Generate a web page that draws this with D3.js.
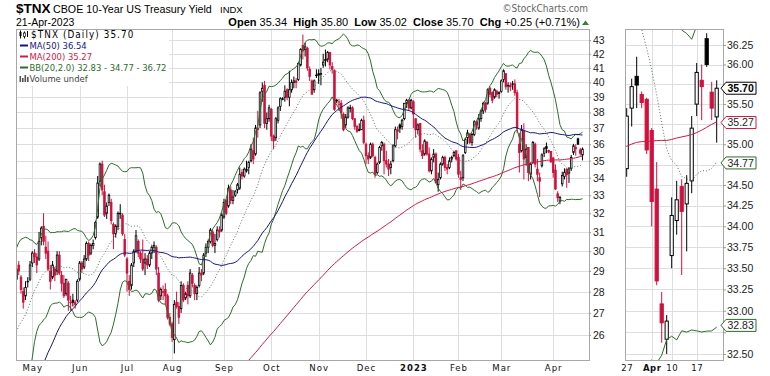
<!DOCTYPE html>
<html lang="en">
<head>
<meta charset="utf-8">
<style>
    body { margin: 0; background: #fff; }
    svg { display: block; }
    .hdr { font-family: "Liberation Sans", Arial, sans-serif; fill: #000; }
    .leg { font-family: "DejaVu Sans Condensed", "DejaVu Sans", sans-serif; }
    .axis text { font-family: "Liberation Sans", Arial, sans-serif; font-size: 10.5px; fill: #222; }
    .axis path { display: none; }
    .axis line { stroke: #999; }
</style>
</head>
<body>

<script type="text/javascript" src="https://d3js.org/d3.v7.min.js"></script>

<svg width="770" height="376"></svg>

<script>
    // market holidays in the date range (no bar on these days)
    var holidays = ["2021-12-24", "2022-01-17", "2022-02-21", "2022-04-15", "2022-05-30", "2022-06-20",
        "2022-07-04", "2022-09-05", "2022-11-24", "2022-12-26", "2023-01-02", "2023-01-16",
        "2023-02-20", "2023-04-07"];

    // closes before the visible window (26-Nov-2021 .. 20-Apr-2022), only used for the averages
    var priorClose = [
        14.8, 15.0, 14.5,
        14.1, 14.5, 13.5, 14.4, 14.8, 15.2, 14.9, 14.8, 14.2, 14.4, 14.7, 14.4, 14.0, 14.3, 14.8, 14.6, 14.9, 14.8, 14.8, 15.5, 15.1, 15.1,
        16.3, 16.6, 17.1, 17.3, 17.6, 17.8, 17.5, 17.4, 17.0, 17.8, 18.7, 18.3, 18.3, 17.5, 17.5, 17.8, 18.7, 18.0, 17.8, 17.9,
        18.1, 17.7, 18.3, 19.3, 19.2, 19.6, 19.4, 20.3, 19.2, 19.8, 20.5, 20.3, 19.7, 19.3, 19.4, 19.9, 19.7, 19.7, 18.3,
        17.2, 18.6, 18.6, 17.4, 17.8, 18.6, 19.5, 20.0, 20.0, 21.4, 21.5, 21.9, 21.9, 21.5, 23.2, 23.8, 22.9, 23.7, 24.8, 24.6, 24.0, 23.5, 23.2,
        23.8, 24.2, 25.5, 26.0, 26.6, 27.2, 27.9, 27.2, 27.0, 28.3, 28.5, 29.3, 28.5
    ];

    // daily open, high, low, close: 21-Apr-2022 .. 21-Apr-2023
    var ohlc = [
        // Apr 2022
        [28.6, 29.6, 28.4, 29.1], [29.3, 29.5, 28.8, 29.0], [28.7, 28.8, 27.9, 28.1], [28.0, 28.2, 27.2, 27.5], [27.8, 28.5, 27.6, 28.2], [28.5, 28.7, 28.2, 28.5], [28.6, 29.5, 28.5, 29.3],
        // May
        [29.4, 30.0, 29.2, 29.9], [29.9, 30.1, 29.4, 29.7], [29.7, 29.9, 28.9, 29.3], [29.6, 31.0, 29.5, 30.5], [30.7, 31.3, 30.3, 31.2],
        [31.3, 32.0, 30.3, 30.5], [30.2, 30.8, 29.6, 29.9], [30.0, 30.5, 29.0, 29.1], [29.0, 29.3, 28.1, 28.5], [28.7, 29.5, 28.6, 29.3],
        [29.1, 29.2, 28.5, 28.8], [29.0, 30.0, 28.8, 29.8], [29.8, 30.0, 28.8, 28.9], [28.8, 29.0, 28.0, 28.4], [28.4, 28.8, 27.7, 27.8],
        [27.9, 28.6, 27.8, 28.6], [28.4, 28.5, 27.1, 27.6], [27.5, 27.8, 27.1, 27.5], [27.6, 27.9, 27.3, 27.5], [27.5, 27.6, 27.2, 27.4],
        [27.6, 28.6, 27.5, 28.5],
        // Jun
        [28.6, 29.5, 28.5, 29.4], [29.4, 29.5, 28.9, 29.1], [29.2, 29.8, 29.1, 29.6],
        [29.6, 30.5, 29.5, 30.4], [30.4, 30.5, 29.5, 29.8], [29.9, 30.4, 29.8, 30.3], [30.3, 30.6, 30.1, 30.4], [30.7, 31.6, 30.6, 31.5],
        [31.8, 34.1, 31.7, 33.7], [33.8, 34.9, 33.5, 34.8], [34.8, 35.0, 33.0, 33.3], [33.2, 33.6, 31.8, 31.9], [32.0, 32.6, 31.7, 32.4],
        [32.6, 33.1, 32.4, 33.0], [32.6, 32.8, 31.4, 31.6], [31.4, 31.5, 30.1, 30.9], [30.9, 31.4, 30.7, 31.3],
        [31.3, 32.1, 31.1, 32.0], [32.0, 32.5, 31.7, 32.0], [31.9, 32.0, 30.8, 30.9], [30.6, 30.9, 29.7, 29.8],
        // Jul
        [29.6, 29.7, 28.0, 28.9],
        [28.5, 28.8, 27.8, 28.1], [28.3, 29.4, 28.1, 29.3], [29.4, 30.1, 29.2, 30.0], [30.0, 31.1, 29.9, 30.8],
        [30.5, 30.6, 29.7, 29.9], [29.9, 30.0, 29.4, 29.6], [29.6, 30.6, 29.0, 29.1], [29.4, 29.9, 28.8, 29.6], [29.6, 29.8, 29.1, 29.3],
        [29.3, 30.0, 29.2, 29.9], [29.9, 30.3, 29.6, 30.2], [30.2, 30.5, 29.9, 30.3], [30.2, 30.3, 28.8, 29.1], [28.9, 29.2, 27.5, 27.6],
        [27.8, 28.2, 27.6, 28.1], [28.0, 28.3, 27.6, 28.0], [28.1, 28.4, 27.4, 27.8], [27.8, 27.9, 26.7, 26.8], [26.8, 27.0, 26.4, 26.5],
        // Aug
        [26.5, 26.6, 25.7, 25.9], [25.8, 27.6, 25.2, 27.4], [27.5, 28.0, 27.2, 27.3], [27.3, 27.5, 26.5, 26.8], [27.2, 28.5, 27.0, 28.3],
        [28.3, 28.4, 27.5, 27.6], [27.7, 28.0, 27.6, 27.9], [28.3, 28.5, 27.4, 27.8], [27.8, 29.1, 27.7, 28.9], [28.8, 28.9, 28.2, 28.4],
        [28.3, 28.4, 27.6, 27.9], [27.9, 28.3, 27.6, 28.2], [28.3, 29.2, 28.2, 28.9], [28.9, 29.1, 28.5, 28.8], [28.9, 29.9, 28.8, 29.8],
        [29.9, 30.4, 29.7, 30.2], [30.2, 30.6, 29.9, 30.5], [30.5, 31.2, 30.4, 31.1], [31.0, 31.1, 30.2, 30.3], [30.3, 30.9, 29.9, 30.4],
        [30.6, 31.3, 30.5, 31.1], [31.1, 31.3, 30.7, 31.0], [31.1, 32.0, 31.0, 31.9],
        // Sep
        [31.8, 32.8, 31.7, 32.6], [32.7, 32.8, 31.9, 32.0],
        [32.4, 33.6, 32.3, 33.4], [33.3, 33.5, 32.5, 32.7], [32.7, 33.3, 32.5, 32.9], [33.0, 33.3, 32.9, 33.2],
        [33.3, 33.7, 33.1, 33.6], [33.4, 34.6, 33.3, 34.2], [34.3, 34.5, 33.9, 34.1], [34.1, 34.6, 34.0, 34.5], [34.4, 35.0, 34.3, 34.5],
        [34.6, 35.0, 34.2, 34.9], [35.0, 36.0, 34.9, 35.7], [35.6, 36.4, 34.8, 35.1], [35.4, 37.2, 35.3, 37.0], [37.0, 38.1, 36.4, 36.9],
        [37.2, 39.4, 37.0, 39.3], [39.4, 40.0, 38.7, 39.6], [39.8, 40.1, 37.0, 37.3], [37.3, 38.0, 36.9, 37.6], [37.6, 38.5, 37.4, 38.3],
        // Oct
        [38.2, 38.3, 36.2, 36.5], [36.5, 36.6, 35.7, 36.2], [36.4, 37.7, 36.2, 37.6], [37.5, 38.4, 37.3, 38.3], [38.4, 39.0, 38.1, 38.9],
        [38.9, 39.0, 38.8, 38.9], [39.0, 39.8, 38.7, 39.4], [39.5, 39.6, 38.8, 39.0], [39.0, 40.8, 38.4, 39.5], [39.5, 40.2, 39.3, 40.0],
        [40.0, 40.4, 39.6, 40.1], [40.1, 40.3, 39.6, 40.0], [40.2, 41.4, 40.1, 41.3], [41.2, 42.4, 41.1, 42.3], [42.6, 43.4, 41.6, 42.2],
        [42.3, 42.8, 41.8, 42.5], [42.4, 42.5, 40.8, 41.0], [40.9, 41.1, 40.1, 40.4], [40.1, 40.2, 39.2, 39.2], [39.5, 40.2, 39.3, 40.1],
        [40.5, 40.9, 40.3, 40.5],
        // Nov
        [40.6, 40.9, 39.9, 40.5], [40.6, 41.0, 39.8, 40.6], [41.2, 42.0, 41.0, 41.4], [41.5, 42.3, 41.1, 41.6],
        [41.6, 42.2, 41.4, 42.1], [42.1, 42.1, 40.9, 41.2], [41.1, 41.4, 40.6, 40.9], [40.8, 40.9, 38.1, 38.2], [38.8, 38.9, 38.6, 38.8],
        [38.5, 38.9, 38.1, 38.7], [38.6, 38.8, 37.6, 38.0], [37.9, 38.0, 36.8, 36.9], [37.2, 37.9, 37.0, 37.7], [37.7, 38.4, 37.6, 38.3],
        [38.3, 38.5, 38.0, 38.3], [38.3, 38.4, 37.5, 37.6], [37.6, 37.6, 36.9, 37.1], [37.1, 37.2, 36.7, 36.8],
        [36.9, 37.3, 36.8, 36.9], [36.9, 37.6, 36.9, 37.5], [37.5, 37.8, 36.0, 36.1],
        // Dec
        [36.0, 36.1, 34.8, 35.3], [35.3, 35.5, 34.8, 35.1],
        [35.2, 36.1, 35.1, 36.0], [36.0, 36.1, 35.2, 35.3], [35.2, 35.3, 34.0, 34.2], [34.3, 34.9, 34.2, 34.8], [34.9, 35.9, 34.8, 35.8],
        [35.9, 36.2, 35.6, 36.1], [36.0, 36.1, 34.2, 35.0], [35.0, 35.6, 34.6, 34.8], [34.8, 35.1, 34.1, 34.5], [34.6, 35.0, 34.2, 34.8],
        [35.0, 36.0, 34.9, 35.9], [35.9, 37.1, 35.8, 36.9], [36.9, 37.1, 36.3, 36.8], [37.2, 37.3, 36.7, 37.0], [37.1, 37.6, 36.9, 37.5],
        [37.6, 38.6, 37.5, 38.6], [38.6, 38.9, 38.3, 38.8], [38.8, 38.9, 38.1, 38.3], [38.3, 38.9, 38.2, 38.8],
        // Jan 2023
        [38.7, 38.8, 37.0, 37.9], [37.6, 37.6, 36.4, 36.9], [36.9, 37.3, 36.6, 37.2], [37.3, 37.3, 35.5, 35.7],
        [35.6, 36.0, 35.1, 35.3], [35.4, 36.3, 35.3, 36.2], [36.1, 36.2, 35.3, 35.4], [35.4, 35.8, 34.3, 34.4], [34.4, 35.2, 34.2, 35.1],
        [35.2, 35.7, 34.9, 35.4], [35.4, 35.5, 33.7, 33.7], [33.6, 34.3, 33.2, 33.9], [34.0, 34.9, 33.9, 34.8],
        [34.8, 35.3, 34.7, 35.2], [35.2, 35.3, 34.4, 34.6], [34.6, 34.8, 34.2, 34.5], [34.6, 35.2, 34.5, 35.0], [35.1, 35.3, 34.9, 35.2],
        [35.3, 35.6, 35.2, 35.5], [35.6, 35.6, 35.0, 35.1],
        // Feb
        [35.2, 35.4, 34.0, 34.2], [34.0, 34.4, 33.3, 33.9], [34.0, 35.4, 33.8, 35.3],
        [35.5, 36.4, 35.4, 36.3], [36.4, 36.9, 36.0, 36.7], [36.6, 36.7, 36.0, 36.1], [36.1, 36.7, 35.9, 36.6], [36.6, 37.5, 36.5, 37.4],
        [37.4, 37.4, 36.9, 37.2], [37.0, 37.9, 36.9, 37.6], [37.6, 38.2, 37.4, 38.1], [38.1, 38.7, 37.9, 38.6], [38.6, 38.7, 38.0, 38.2],
        [38.6, 39.6, 38.5, 39.5], [39.6, 39.7, 39.0, 39.2], [39.3, 39.4, 38.6, 38.8], [39.0, 39.6, 38.9, 39.5],
        [39.4, 39.5, 39.0, 39.2], [39.3, 39.4, 38.9, 39.3],
        // Mar
        [39.4, 40.2, 39.3, 40.1], [40.2, 40.9, 40.0, 40.8], [40.6, 40.6, 39.5, 39.7],
        [39.8, 40.0, 39.3, 39.8], [39.8, 40.0, 39.4, 39.7], [39.9, 40.1, 39.5, 39.9], [39.9, 40.2, 39.1, 39.3], [39.3, 39.5, 36.7, 37.0],
        [36.0, 36.7, 34.3, 35.5], [35.6, 37.2, 35.5, 36.9], [36.8, 37.3, 33.9, 35.1], [35.2, 36.0, 34.7, 35.7], [35.8, 35.8, 33.8, 34.3],
        [34.2, 34.9, 33.9, 34.8], [34.9, 36.2, 34.8, 36.1], [36.0, 36.1, 34.6, 34.8], [34.5, 35.1, 33.8, 34.2], [34.0, 34.3, 32.9, 33.8],
        [34.70, 35.45, 34.60, 35.35], [35.45, 35.82, 35.22, 35.72], [35.85, 36.10, 35.45, 35.74], [35.62, 35.66, 35.45, 35.52], [35.56, 35.58, 34.88, 34.93],
        // Apr
        [35.17, 35.20, 34.00, 34.30], [34.45, 34.78, 33.30, 33.35], [33.08, 33.22, 32.63, 32.86], [32.67, 32.95, 32.50, 32.88],
        [33.65, 34.35, 33.50, 34.13], [34.07, 34.55, 33.90, 34.32], [34.48, 34.57, 33.42, 34.18], [34.27, 34.62, 33.70, 34.52], [34.55, 35.35, 34.40, 35.20],
        [35.50, 36.02, 35.35, 35.90], [35.80, 36.00, 35.30, 35.72], [36.33, 36.40, 35.97, 36.00], [35.65, 35.78, 35.30, 35.45], [35.34, 35.80, 35.02, 35.70]
    ];

    var monthLabels = ["May", "Jun", "Jul", "Aug", "Sep", "Oct", "Nov", "Dec", "2023", "Feb", "Mar", "Apr"];
    var zoomLabels = ["27", "Apr", "10", "17"];
    var mainTicks = d3.range(26, 44);
    var zoomTicks = d3.range(32.5, 36.26, 0.25);
    var legendRows = ["$TNX (Daily) 35.70", "MA(50) 36.54", "MA(200) 35.27", "BB(20,2.0) 32.83 - 34.77 - 36.72", "Volume undef"];
    var tagValues = [35.70, 35.27, 34.77, 32.83];

    var red = "#d0103c", navy = "#16167e", crimson = "#cf1a47", green = "#2c6c2c", midGreen = "#4f7a4f";

    var svg = d3.select("svg");
    var fmt = d3.timeFormat("%Y-%m-%d");

    var P = priorClose.length;
    var closes = priorClose.concat(ohlc.map(function (r) { return r[3]; }));
    var days = d3.timeDay.range(new Date(2021, 10, 26), new Date(2023, 3, 22)).filter(function (d) {
        return d.getDay() !== 0 && d.getDay() !== 6 && holidays.indexOf(fmt(d)) < 0;
    });
    if (days.length !== closes.length) throw new Error("dates " + days.length + " vs closes " + closes.length);

    function avg(n, g) { return g < n - 1 ? null : d3.mean(closes.slice(g - n + 1, g + 1)); }
    function band(n, g) {
        var s = closes.slice(g - n + 1, g + 1), m = d3.mean(s);
        var sd = Math.sqrt(d3.mean(s, function (v) { return (v - m) * (v - m); }));
        return { mid: m, up: m + 2 * sd, lo: m - 2 * sd };
    }

    var bars = ohlc.map(function (r, i) {
        var g = P + i;
        return {
            key: fmt(days[g]), date: days[g], o: r[0], h: r[1], l: r[2], c: r[3], pc: closes[g - 1],
            ma50: avg(50, g), ma200: avg(200, g), bb: band(20, g)
        };
    });

    function col(d) { return d.c >= d.pc ? "#000" : red; }

    function candles(g, data, xs, ys, w, sw) {
        var c = g.selectAll(null).data(data).enter().append("g");
        c.append("line")
            .attr("x1", function (d) { return xs(d.key); })
            .attr("x2", function (d) { return xs(d.key); })
            .attr("y1", function (d) { return ys(d.h); })
            .attr("y2", function (d) { return ys(d.l); })
            .attr("stroke", col).attr("stroke-width", 1);
        c.append("rect")
            .attr("x", function (d) { return xs(d.key) - w / 2; })
            .attr("width", w)
            .attr("y", function (d) { return ys(Math.max(d.o, d.c)); })
            .attr("height", function (d) { return Math.max(0.6, Math.abs(ys(d.o) - ys(d.c))); })
            .attr("fill", function (d) { return d.c > d.o ? "#fff" : col(d); })
            .attr("stroke", col).attr("stroke-width", sw);
    }

    function overlay(g, data, xs, ys, acc, color, dash) {
        g.append("path")
            .datum(data.filter(function (d) { return acc(d) != null; }))
            .attr("fill", "none").attr("stroke", color).attr("stroke-width", 1)
            .attr("stroke-dasharray", dash || null)
            .attr("d", d3.line().x(function (d) { return xs(d.key); }).y(function (d) { return ys(acc(d)); }));
    }

    function overlays(g, data, xs, ys) {
        overlay(g, data, xs, ys, function (d) { return d.bb.up; }, green);
        overlay(g, data, xs, ys, function (d) { return d.bb.lo; }, green);
        overlay(g, data, xs, ys, function (d) { return d.bb.mid; }, midGreen, "1,2");
        overlay(g, data, xs, ys, function (d) { return d.ma200; }, crimson);
        overlay(g, data, xs, ys, function (d) { return d.ma50; }, navy);
    }

    var defs = svg.append("defs");

    // ---------- header ----------
    svg.append("text").attr("class", "hdr").attr("x", 16).attr("y", 13)
        .attr("font-size", "13.5px").attr("font-weight", "bold").text("$TNX");
    svg.append("text").attr("class", "hdr").attr("x", 53).attr("y", 13)
        .attr("font-size", "10.7px").text("CBOE 10-Year US Treasury Yield");
    svg.append("text").attr("class", "hdr").attr("x", 220).attr("y", 13)
        .attr("font-size", "9.5px").text("INDX");
    svg.append("text").attr("class", "hdr").attr("x", 16).attr("y", 26)
        .attr("font-size", "10.5px").text("21-Apr-2023");
    svg.append("text").attr("x", 588).attr("y", 12).attr("text-anchor", "end")
        .attr("font-family", "DejaVu Sans Condensed, DejaVu Sans, sans-serif")
        .attr("font-size", "10px").attr("fill", "#666").text("\u00a9StockCharts.com");

    var quote = [["Open", " 35.34  "], ["High", " 35.80  "], ["Low", " 35.02  "],
        ["Close", " 35.70  "], ["Chg", " +0.25 (+0.71%)"]];
    var qt = svg.append("text").attr("class", "hdr").attr("x", 580).attr("y", 26)
        .attr("text-anchor", "end").attr("font-size", "11px");
    quote.forEach(function (q) {
        qt.append("tspan").attr("font-weight", "bold").text(q[0]);
        qt.append("tspan").text(q[1].replace(/ /g, "\u00a0"));
    });
    svg.append("path").attr("d", "M582,25 L585.5,20.5 L589,25 Z").attr("fill", "#3d7a3d");

    // ---------- main panel ----------
    var M = { l: 16, r: 589, t: 29, b: 360 };
    var x = d3.scalePoint().domain(bars.map(function (d) { return d.key; })).range([16.5, 582.5]);
    var y = d3.scaleLog().domain([24.92, 43.81]).range([M.b, M.t]);

    defs.append("clipPath").attr("id", "clipMain").append("rect")
        .attr("x", M.l).attr("y", M.t).attr("width", M.r - M.l).attr("height", M.b - M.t);

    var monthKeys = bars.filter(function (d, i) {
        return i > 0 && d.date.getMonth() !== bars[i - 1].date.getMonth();
    }).map(function (d) { return d.key; });

    var main = svg.append("g");
    main.selectAll(null).data(mainTicks).enter().append("line")
        .attr("x1", M.l).attr("x2", M.r)
        .attr("y1", function (d) { return Math.round(y(d)) + 0.5; })
        .attr("y2", function (d) { return Math.round(y(d)) + 0.5; })
        .attr("stroke", "#dedede");
    main.selectAll(null).data(monthKeys).enter().append("line")
        .attr("y1", M.t).attr("y2", M.b)
        .attr("x1", function (d) { return Math.round(x(d)) + 0.5; })
        .attr("x2", function (d) { return Math.round(x(d)) + 0.5; })
        .attr("stroke", "#dedede");

    var plot = main.append("g").attr("clip-path", "url(#clipMain)");
    candles(plot, bars, x, y, 1.6, 0.8);
    overlays(plot, bars, x, y);

    main.append("rect").attr("x", M.l + 0.5).attr("y", M.t + 0.5)
        .attr("width", M.r - M.l).attr("height", M.b - M.t)
        .attr("fill", "none").attr("stroke", "#a8a8a8");

    main.append("g").attr("class", "axis").attr("transform", "translate(" + M.r + ",0)")
        .call(d3.axisRight(y).tickValues(mainTicks).tickFormat(d3.format("d")).tickSize(2).tickPadding(2));

    var xa = main.append("g").attr("class", "axis").attr("transform", "translate(0," + M.b + ")")
        .call(d3.axisBottom(x).tickValues(monthKeys)
            .tickFormat(function (k, i) { return monthLabels[i]; }).tickSize(0).tickPadding(4));
    xa.selectAll("text")
        .style("font-family", "DejaVu Sans Condensed, DejaVu Sans, sans-serif")
        .style("font-size", "9.5px").style("letter-spacing", "1px").style("fill", "#111")
        .style("font-weight", function (d, i) { return monthLabels[i] === "2023" ? "bold" : "normal"; });

    // legend
    var leg = main.append("g");
    leg.append("rect").attr("x", 17).attr("y", 30).attr("width", 152).attr("height", 56).attr("fill", "#fff");
    var legColors = ["#000", navy, crimson, green, "#444"];
    legendRows.forEach(function (t, i) {
        var yy = 38 + i * 11;
        leg.append("text").attr("class", "leg").attr("x", i === 0 ? 31 : 29.5).attr("y", yy)
            .attr("font-size", i === 0 ? "9.8px" : "9.4px").attr("fill", legColors[i])
            .style("letter-spacing", i === 0 ? "1.1px" : "0px").text(t);
        if (i >= 1 && i <= 3) {
            leg.append("line").attr("x1", 20).attr("x2", 28).attr("y1", yy - 3.5).attr("y2", yy - 3.5)
                .attr("stroke", legColors[i]).attr("stroke-width", 2);
        }
    });
    // little candle icon and volume icon
    leg.append("line").attr("x1", 20.5).attr("x2", 20.5).attr("y1", 30.5).attr("y2", 38.5).attr("stroke", "#000");
    leg.append("rect").attr("x", 19.5).attr("y", 32).attr("width", 2).attr("height", 4).attr("fill", "#000");
    leg.append("line").attr("x1", 24.5).attr("x2", 24.5).attr("y1", 31.5).attr("y2", 38.5).attr("stroke", "#000");
    leg.append("rect").attr("x", 23.5).attr("y", 33).attr("width", 2).attr("height", 3.5).attr("fill", "#fff").attr("stroke", "#000").attr("stroke-width", 0.7);
    leg.append("line").attr("x1", 27.5).attr("x2", 27.5).attr("y1", 31).attr("y2", 37).attr("stroke", "#000");
    [[19.5, 6], [22, 4], [24.5, 7], [27, 5]].forEach(function (b) {
        leg.append("rect").attr("x", b[0]).attr("y", 82 - b[1]).attr("width", 1.6).attr("height", b[1]).attr("fill", "#555");
    });

    // ---------- zoomed panel ----------
    var Z = { l: 625, r: 723, t: 29, b: 360 };
    var zb = bars.slice(bars.length - 20);
    var zx = d3.scalePoint().domain(zb.map(function (d) { return d.key; })).range([621.7, 716.7]);
    var zy = d3.scaleLog().domain([32.431, 36.455]).range([Z.b, Z.t]);

    defs.append("clipPath").attr("id", "clipZoom").append("rect")
        .attr("x", Z.l).attr("y", Z.t).attr("width", Z.r - Z.l).attr("height", Z.b - Z.t);

    var mondays = zb.filter(function (d, i) {
        return i > 0 && (d.date - zb[i - 1].date) > 86400000 * 1.5;
    }).map(function (d) { return d.key; });

    var zg = svg.append("g");
    zg.selectAll(null).data(zoomTicks).enter().append("line")
        .attr("x1", Z.l).attr("x2", Z.r)
        .attr("y1", function (d) { return Math.round(zy(d)) + 0.5; })
        .attr("y2", function (d) { return Math.round(zy(d)) + 0.5; })
        .attr("stroke", "#dedede");
    zg.selectAll(null).data(mondays.slice(1)).enter().append("line")
        .attr("y1", Z.t).attr("y2", Z.b)
        .attr("x1", function (d) { return Math.round(zx(d)) + 0.5; })
        .attr("x2", function (d) { return Math.round(zx(d)) + 0.5; })
        .attr("stroke", "#dedede");

    var zplot = zg.append("g").attr("clip-path", "url(#clipZoom)");
    candles(zplot, zb, zx, zy, 3.2, 1);
    overlays(zplot, zb, zx, zy);

    zg.append("rect").attr("x", Z.l + 0.5).attr("y", Z.t + 0.5)
        .attr("width", Z.r - Z.l).attr("height", Z.b - Z.t)
        .attr("fill", "none").attr("stroke", "#a8a8a8");

    // tick labels hidden under a value tag are left blank
    function underTag(v) {
        return tagValues.some(function (t) { return Math.abs(zy(t) - zy(v)) < 8; });
    }
    zg.append("g").attr("class", "axis").attr("transform", "translate(" + Z.r + ",0)")
        .call(d3.axisRight(zy).tickValues(zoomTicks)
            .tickFormat(function (v) { return underTag(v) ? "" : d3.format(".2f")(v); })
            .tickSize(3).tickPadding(1));

    var zxa = zg.append("g").attr("class", "axis").attr("transform", "translate(0," + Z.b + ")")
        .call(d3.axisBottom(zx).tickValues(mondays)
            .tickFormat(function (k, i) { return zoomLabels[i]; }).tickSize(0).tickPadding(4));
    zxa.selectAll("text")
        .style("font-family", "DejaVu Sans Condensed, DejaVu Sans, sans-serif")
        .style("font-size", "9.5px").style("letter-spacing", "0.5px").style("fill", "#111")
        .style("font-weight", function (d, i) { return zoomLabels[i] === "Apr" ? "bold" : "normal"; });

    // value tags on the zoom axis
    var tagColors = ["#000", crimson, green, green];
    tagValues.forEach(function (v, i) {
        var yy = zy(v);
        zg.append("path")
            .attr("d", "M721," + yy + " L726," + (yy - 6) + " L756," + (yy - 6) + " L756," + (yy + 6) + " L726," + (yy + 6) + " Z")
            .attr("fill", "#fff").attr("stroke", tagColors[i]).attr("stroke-width", 1);
        zg.append("text").attr("x", 727.5).attr("y", yy + 3.8)
            .attr("font-family", "Liberation Sans, Arial, sans-serif")
            .attr("font-size", "10.5px").attr("font-weight", i === 0 ? "bold" : "normal")
            .attr("fill", i === 0 ? "#000" : "#222").text(v.toFixed(2));
    });
</script>
</body>
</html>
